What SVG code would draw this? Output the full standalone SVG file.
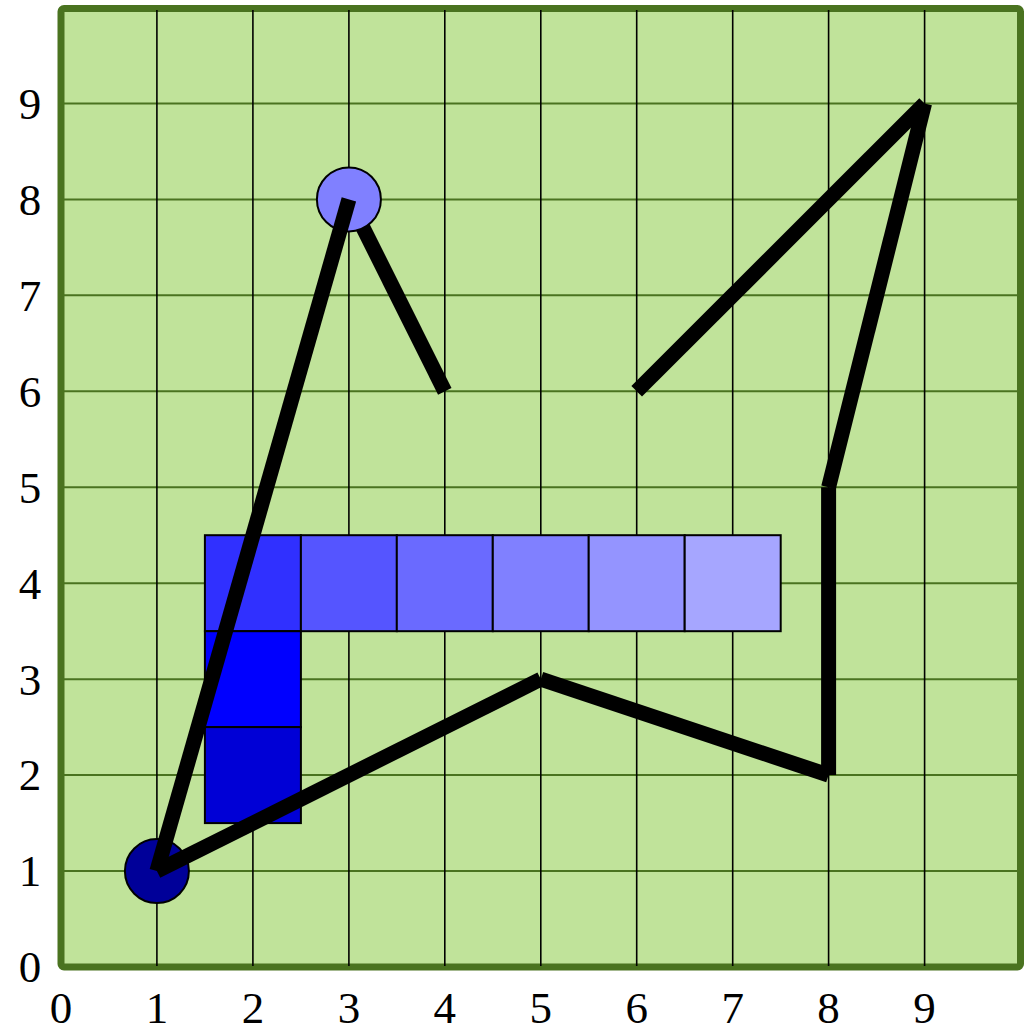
<svg xmlns="http://www.w3.org/2000/svg" width="1025" height="1028" viewBox="0 0 1025 1028">
<style>
.hg{stroke:#4a7320;stroke-width:2}
.vg{stroke:#000;stroke-width:1.6}
.sq{stroke:#000;stroke-width:2}
.seg{stroke:#000;stroke-width:15;stroke-linecap:butt;fill:none}
.lbl{font-family:"Liberation Serif","Times New Roman",serif;font-size:45px;fill:#000;text-anchor:middle}
</style>
<rect id="plot" x="61" y="8.5" width="959.5" height="958.5" rx="3" fill="#c0e39a" stroke="#4a7320" stroke-width="7"/>
<g id="hgrid" class="hg">
<line x1="61" y1="871.05" x2="1020" y2="871.05"/>
<line x1="61" y1="775.1" x2="1020" y2="775.1"/>
<line x1="61" y1="679.15" x2="1020" y2="679.15"/>
<line x1="61" y1="583.2" x2="1020" y2="583.2"/>
<line x1="61" y1="487.25" x2="1020" y2="487.25"/>
<line x1="61" y1="391.3" x2="1020" y2="391.3"/>
<line x1="61" y1="295.35" x2="1020" y2="295.35"/>
<line x1="61" y1="199.4" x2="1020" y2="199.4"/>
<line x1="61" y1="103.45" x2="1020" y2="103.45"/>
</g>
<g id="vgrid" class="vg">
<line x1="156.9" y1="10" x2="156.9" y2="966"/>
<line x1="252.9" y1="10" x2="252.9" y2="966"/>
<line x1="348.9" y1="10" x2="348.9" y2="966"/>
<line x1="444.8" y1="10" x2="444.8" y2="966"/>
<line x1="540.8" y1="10" x2="540.8" y2="966"/>
<line x1="636.7" y1="10" x2="636.7" y2="966"/>
<line x1="732.7" y1="10" x2="732.7" y2="966"/>
<line x1="828.6" y1="10" x2="828.6" y2="966"/>
<line x1="924.6" y1="10" x2="924.6" y2="966"/>
</g>
<g id="ylabels" class="lbl">
<text x="30" y="982">0</text>
<text x="30" y="886">1</text>
<text x="30" y="790">2</text>
<text x="30" y="695">3</text>
<text x="30" y="599">4</text>
<text x="30" y="503">5</text>
<text x="30" y="407">6</text>
<text x="30" y="311">7</text>
<text x="30" y="215">8</text>
<text x="30" y="119">9</text>
</g>
<g id="xlabels" class="lbl">
<text x="61" y="1023">0</text>
<text x="156.9" y="1023">1</text>
<text x="252.9" y="1023">2</text>
<text x="348.9" y="1023">3</text>
<text x="444.8" y="1023">4</text>
<text x="540.8" y="1023">5</text>
<text x="636.7" y="1023">6</text>
<text x="732.7" y="1023">7</text>
<text x="828.6" y="1023">8</text>
<text x="924.6" y="1023">9</text>
</g>
<g id="squares" class="sq">
<rect id="sq-2-4" x="204.9" y="535.2" width="96" height="96" fill="#3030ff"/>
<rect id="sq-3-4" x="300.9" y="535.2" width="96" height="96" fill="#5555ff"/>
<rect id="sq-4-4" x="396.8" y="535.2" width="96" height="96" fill="#6a6aff"/>
<rect id="sq-5-4" x="492.8" y="535.2" width="96" height="96" fill="#8080ff"/>
<rect id="sq-6-4" x="588.7" y="535.2" width="96" height="96" fill="#9494ff"/>
<rect id="sq-7-4" x="684.7" y="535.2" width="96" height="96" fill="#a6a6ff"/>
<rect id="sq-2-3" x="204.9" y="631.2" width="96" height="96" fill="#0000ff"/>
<rect id="sq-2-2" x="204.9" y="727.1" width="96" height="96" fill="#0000d6"/>
</g>
<g id="connectors-under">
<line class="seg" x1="348.9" y1="199.4" x2="444.8" y2="391.3"/>
</g>
<g id="node-3-8"><circle cx="348.9" cy="199.4" r="32" fill="#8080ff" stroke="#000" stroke-width="2"/></g>
<g id="node-1-1"><circle cx="156.9" cy="871.05" r="32" fill="#000099" stroke="#000" stroke-width="2"/></g>
<g id="connectors">
<line class="seg" x1="156.9" y1="871.05" x2="348.9" y2="199.4"/>
<line class="seg" x1="636.7" y1="391.3" x2="924.6" y2="103.45"/>
<line class="seg" x1="924.6" y1="103.45" x2="828.6" y2="487.25"/>
<line class="seg" x1="828.6" y1="487.25" x2="828.6" y2="775.1"/>
<line class="seg" x1="828.6" y1="775.1" x2="540.8" y2="679.15"/>
<line class="seg" x1="540.8" y1="679.15" x2="156.9" y2="871.05"/>
</g>
</svg>
